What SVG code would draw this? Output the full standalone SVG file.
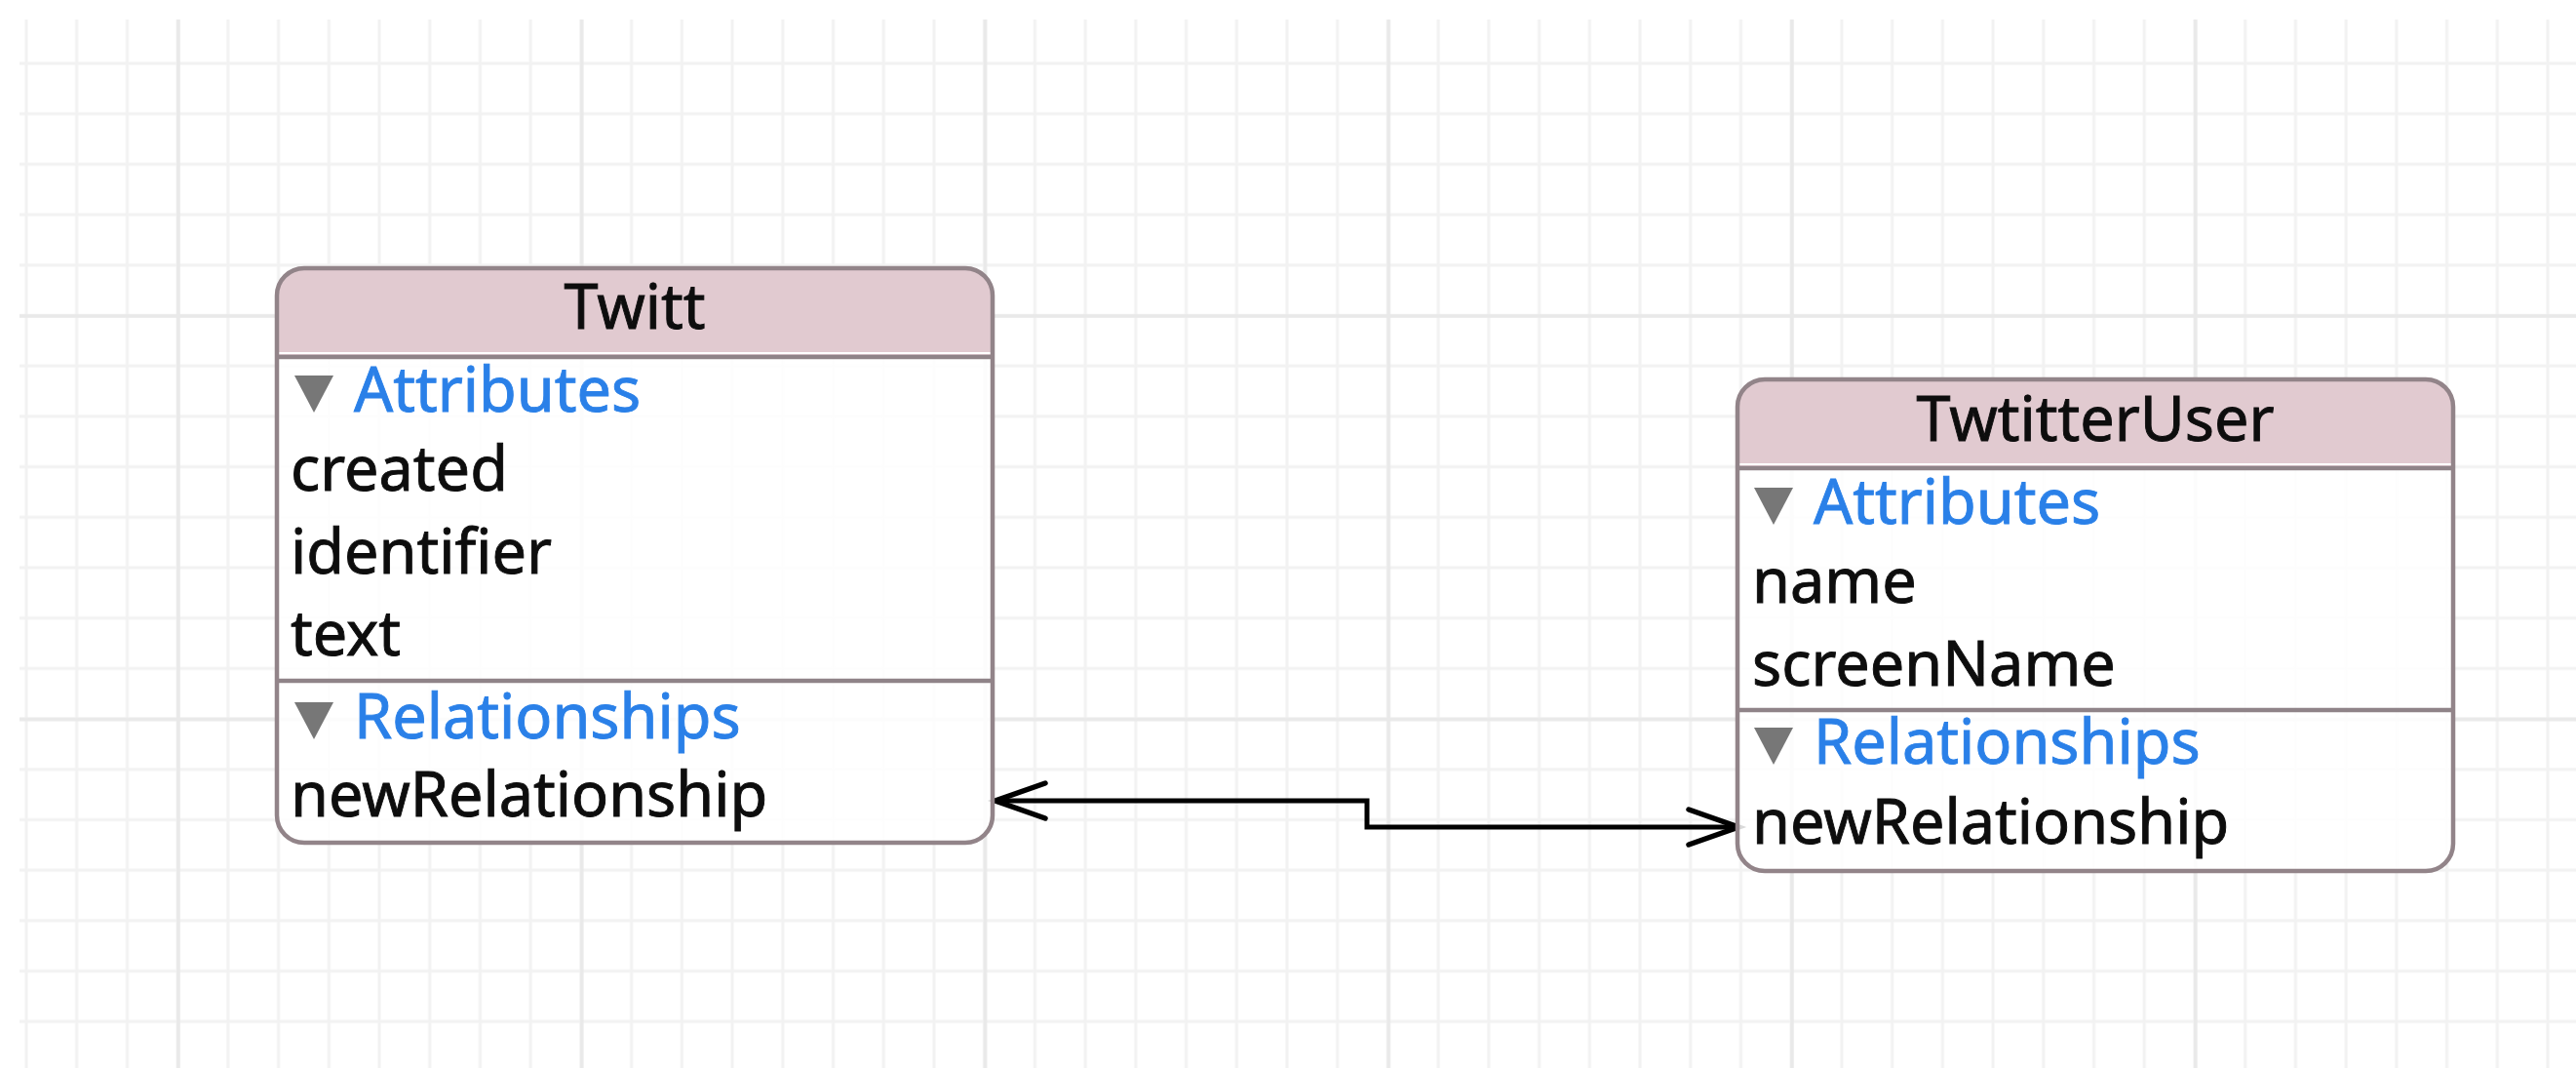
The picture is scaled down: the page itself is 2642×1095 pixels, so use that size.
<svg xmlns="http://www.w3.org/2000/svg" width="2642" height="1095" viewBox="0 0 2642 1095">
  <defs>
    <pattern id="gridMinor" patternUnits="userSpaceOnUse" x="1.14" y="39.15" width="51.72" height="51.7">
      <path d="M25.86,0 V51.7 M0,25.85 H51.72" stroke="#f2f2f2" stroke-width="3" fill="none"/>
    </pattern>
    <pattern id="gridMajor" patternUnits="userSpaceOnUse" x="-23.88" y="117.2" width="413.76" height="413.6">
      <path d="M206.88,0 V413.6 M0,206.8 H413.76" stroke="#e9e9e9" stroke-width="3.5" fill="none"/>
    </pattern>
  </defs>
  <style>
    .body { fill: #ffffff; fill-opacity: 0.85; }
    .head { fill: #dfc7cd; fill-opacity: 0.94; }
    .frame { fill: none; stroke: #928489; stroke-width: 4.5; }
    .sep { stroke: #8f8388; stroke-width: 4.5; }
    .hilite { stroke: #ffffff; stroke-width: 2; }
    text { font-family: "Noto Sans", "Liberation Sans", sans-serif; font-size: 63px; stroke-width: 0.9px; paint-order: stroke; }
    .title { fill: #0d0d0d; stroke: #0d0d0d; text-anchor: middle; }
    .item { fill: #0d0d0d; stroke: #0d0d0d; }
    .section { fill: #2a80e8; stroke: #2a80e8; }
    .tri { fill: #777777; }
    .link { fill: none; stroke: #000; stroke-width: 5; }
    .head-arrow { fill: none; stroke: #000; stroke-width: 5.5; stroke-linecap: round; stroke-linejoin: miter; }
  </style>

  <!-- canvas with editor grid -->
  <rect x="0" y="0" width="2642" height="1095" fill="#ffffff"/>
  <rect x="20" y="20" width="2622" height="1075" fill="url(#gridMinor)"/>
  <rect x="20" y="20" width="2622" height="1075" fill="url(#gridMajor)"/>

  <!-- relationship connector -->
  <g id="connectors">
    <path class="link" d="M1022,821 H1402 V848 H1780"/>
    <path class="head-arrow" d="M1072,803 L1021,821 L1072,839"/>
    <path class="head-arrow" d="M1732,830 L1783,848 L1732,866"/>
  </g>

  <!-- entity: Twitt -->
  <g id="twitt">
    <rect class="body" x="284" y="275" width="734" height="589" rx="28"/>
    <path class="head" d="M284,366 V303 A28,28 0 0 1 312,275 H990 A28,28 0 0 1 1018,303 V366 Z"/>
    <line class="hilite" x1="286" y1="362" x2="1016" y2="362"/>
    <line class="sep" x1="284" y1="366" x2="1018" y2="366"/>
    <line class="sep" x1="284" y1="698" x2="1018" y2="698"/>
    <rect class="frame" x="284" y="275" width="734" height="589" rx="28"/>
    <text class="title" x="651" y="337">Twitt</text>
    <polygon class="tri" points="302,385 342,385 322,423"/>
    <text class="section" x="363" y="422">Attributes</text>
    <text class="item" x="298" y="503">created</text>
    <text class="item" x="298" y="588">identifier</text>
    <text class="item" x="298" y="672">text</text>
    <polygon class="tri" points="302,720 342,720 322,758"/>
    <text class="section" x="363" y="757">Relationships</text>
    <text class="item" x="298" y="837">newRelationship</text>
  </g>

  <!-- entity: TwtitterUser -->
  <g id="twtitterUser">
    <rect class="body" x="1782" y="389" width="734" height="504" rx="28"/>
    <path class="head" d="M1782,480 V417 A28,28 0 0 1 1810,389 H2488 A28,28 0 0 1 2516,417 V480 Z"/>
    <line class="hilite" x1="1784" y1="476" x2="2514" y2="476"/>
    <line class="sep" x1="1782" y1="480" x2="2516" y2="480"/>
    <line class="sep" x1="1782" y1="728" x2="2516" y2="728"/>
    <rect class="frame" x="1782" y="389" width="734" height="504" rx="28"/>
    <text class="title" x="2149" y="452">TwtitterUser</text>
    <polygon class="tri" points="1799,500 1839,500 1819,538"/>
    <text class="section" x="1860" y="537">Attributes</text>
    <text class="item" x="1797" y="618">name</text>
    <text class="item" x="1797" y="703">screenName</text>
    <polygon class="tri" points="1799,746 1839,746 1819,784"/>
    <text class="section" x="1860" y="783">Relationships</text>
    <text class="item" x="1797" y="865">newRelationship</text>
  </g>
</svg>
